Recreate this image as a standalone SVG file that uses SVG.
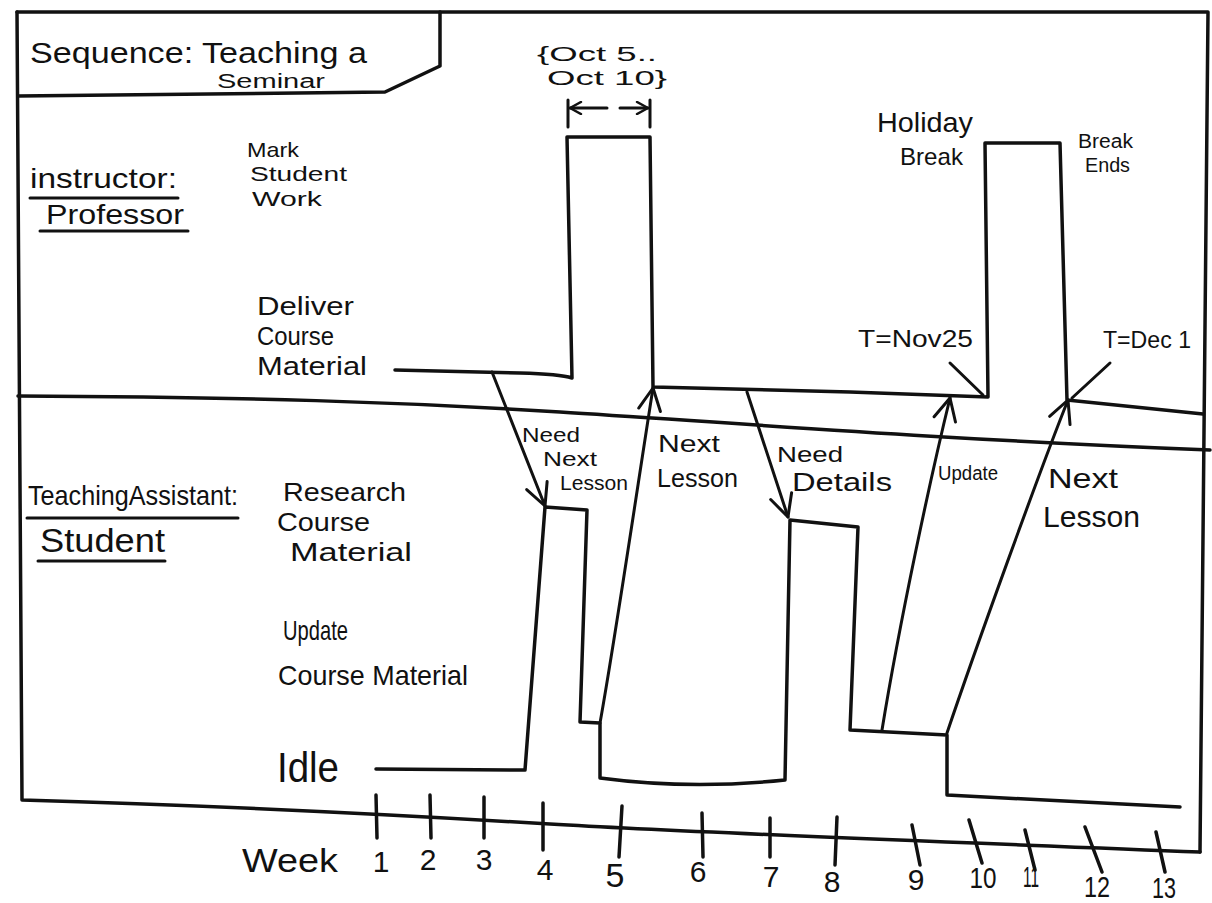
<svg xmlns="http://www.w3.org/2000/svg" width="1212" height="903" viewBox="0 0 1212 903">
  <style>
    .ln { fill: none; stroke: #111; stroke-width: 3.5; stroke-linecap: round; stroke-linejoin: round; }
    .thin { fill: none; stroke: #111; stroke-width: 3; stroke-linecap: round; stroke-linejoin: round; }
    .msg { fill: none; stroke: #111; stroke-width: 3; stroke-linecap: round; stroke-linejoin: round; marker-end: url(#open); }
    text { font-family: "Liberation Sans", Arial, sans-serif; fill: #111; }
  </style>
  <defs>
    <marker id="open" viewBox="0 0 26 26" refX="24" refY="13" markerWidth="26" markerHeight="26" markerUnits="userSpaceOnUse" orient="auto">
      <path d="M2,2 L24,13 L2,24" fill="none" stroke="#111" stroke-width="3" stroke-linecap="round" stroke-linejoin="round"/>
    </marker>
    <marker id="small" viewBox="0 0 14 14" refX="13" refY="7" markerWidth="14" markerHeight="14" markerUnits="userSpaceOnUse" orient="auto">
      <path d="M2,1 L13,7 L2,13" fill="none" stroke="#111" stroke-width="2.5" stroke-linecap="round" stroke-linejoin="round"/>
    </marker>
  </defs>
  <rect width="1212" height="903" fill="#fff"/>

  <!-- outer frame -->
  <g id="frame">
    <path class="ln" d="M17,12 L1208,12 L1200,852"/>
    <path class="ln" d="M17,12 L22,800 C200,805 400,815 550,824 S900,840 1200,852"/>
    <path class="ln" d="M18,396 C250,397 400,402 560,412 S950,440 1210,450"/>
  </g>

  <!-- title box -->
  <g id="title">
    <path class="ln" d="M18,96 L385,92 L440,66 L440,12"/>
    <text x="30" y="63" font-size="30" textLength="337" lengthAdjust="spacingAndGlyphs">Sequence: Teaching a</text>
    <text x="217" y="88" font-size="20" textLength="108" lengthAdjust="spacingAndGlyphs">Seminar</text>
  </g>

  <!-- lifeline: instructor -->
  <g id="lifeline-professor">
    <text x="30" y="188" font-size="28" textLength="147" lengthAdjust="spacingAndGlyphs">instructor:</text>
    <path class="thin" d="M30,198 L178,198"/>
    <text x="46" y="224" font-size="28" textLength="138" lengthAdjust="spacingAndGlyphs">Professor</text>
    <path class="thin" d="M40,231 L188,231"/>
  </g>

  <g id="states-professor">
    <text x="247" y="157" font-size="21" textLength="52" lengthAdjust="spacingAndGlyphs">Mark</text>
    <text x="250" y="181" font-size="21" textLength="97" lengthAdjust="spacingAndGlyphs">Student</text>
    <text x="252" y="206" font-size="21" textLength="70" lengthAdjust="spacingAndGlyphs">Work</text>
    <text x="257" y="315" font-size="26" textLength="97" lengthAdjust="spacingAndGlyphs">Deliver</text>
    <text x="257" y="345" font-size="26" textLength="77" lengthAdjust="spacingAndGlyphs">Course</text>
    <text x="257" y="375" font-size="26" textLength="110" lengthAdjust="spacingAndGlyphs">Material</text>
  </g>

  <!-- lifeline: teaching assistant -->
  <g id="lifeline-student">
    <text x="28" y="505" font-size="28" textLength="210" lengthAdjust="spacingAndGlyphs">TeachingAssistant:</text>
    <path class="thin" d="M27,518 L238,518"/>
    <text x="40" y="552" font-size="34" textLength="125" lengthAdjust="spacingAndGlyphs">Student</text>
    <path class="thin" d="M38,561 L165,561"/>
  </g>

  <g id="states-student">
    <text x="283" y="501" font-size="26" textLength="123" lengthAdjust="spacingAndGlyphs">Research</text>
    <text x="277" y="531" font-size="26" textLength="93" lengthAdjust="spacingAndGlyphs">Course</text>
    <text x="290" y="561" font-size="26" textLength="122" lengthAdjust="spacingAndGlyphs">Material</text>
    <text x="283" y="640" font-size="28" textLength="65" lengthAdjust="spacingAndGlyphs">Update</text>
    <text x="278" y="685" font-size="28" textLength="190" lengthAdjust="spacingAndGlyphs">Course Material</text>
    <text x="277" y="782" font-size="42" textLength="62" lengthAdjust="spacingAndGlyphs">Idle</text>
  </g>

  <!-- state timelines -->
  <g id="timeline-professor">
    <path class="ln" d="M395,370 L520,373 Q560,374 572,378 L567,137 L650,137 L653,387 L850,392 L988,397 L985,143 L1060,143 L1067,400 L1203,414"/>
  </g>
  <g id="timeline-student">
    <path class="ln" d="M376,769 L525,770 L545,507 L587,510 L580,722 L600,723 L600,778 Q690,790 785,780 L790,520 L858,527 L850,730 L947,735 L947,795 L1180,807"/>
  </g>

  <!-- messages -->
  <g id="connectors">
    <path class="msg" d="M492,372 L545,506"/>
    <path class="msg" d="M600,723 C615,640 640,470 653,388"/>
    <path class="msg" d="M747,392 L788,517"/>
    <path class="msg" d="M882,730 C900,620 930,480 950,398"/>
    <path class="msg" d="M947,733 C975,650 1040,470 1068,400"/>
    <path class="thin" d="M950,363 L983,395"/>
    <path class="thin" d="M1110,363 L1072,398"/>
  </g>

  <g id="message-labels">
    <text x="522" y="442" font-size="20" textLength="58" lengthAdjust="spacingAndGlyphs">Need</text>
    <text x="543" y="466" font-size="20" textLength="54" lengthAdjust="spacingAndGlyphs">Next</text>
    <text x="560" y="490" font-size="20" textLength="68" lengthAdjust="spacingAndGlyphs">Lesson</text>
    <text x="658" y="452" font-size="24" textLength="62" lengthAdjust="spacingAndGlyphs">Next</text>
    <text x="657" y="487" font-size="26" textLength="81" lengthAdjust="spacingAndGlyphs">Lesson</text>
    <text x="777" y="462" font-size="22" textLength="66" lengthAdjust="spacingAndGlyphs">Need</text>
    <text x="792" y="491" font-size="26" textLength="100" lengthAdjust="spacingAndGlyphs">Details</text>
    <text x="938" y="480" font-size="20" textLength="60" lengthAdjust="spacingAndGlyphs">Update</text>
    <text x="1048" y="488" font-size="28" textLength="70" lengthAdjust="spacingAndGlyphs">Next</text>
    <text x="1043" y="527" font-size="30" textLength="97" lengthAdjust="spacingAndGlyphs">Lesson</text>
  </g>

  <!-- timing annotations -->
  <g id="duration-constraint">
    <text x="537" y="61" font-size="20" textLength="120" lengthAdjust="spacingAndGlyphs">{Oct 5..</text>
    <text x="547" y="85" font-size="20" textLength="120" lengthAdjust="spacingAndGlyphs">Oct 10}</text>
    <path class="thin" d="M568,100 L568,127 M650,100 L650,127"/>
    <path class="thin" d="M607,108 L570,108" marker-end="url(#small)"/>
    <path class="thin" d="M620,108 L648,108" marker-end="url(#small)"/>
  </g>
  <g id="holiday-annotations">
    <text x="877" y="132" font-size="28" textLength="96" lengthAdjust="spacingAndGlyphs">Holiday</text>
    <text x="900" y="165" font-size="24" textLength="63" lengthAdjust="spacingAndGlyphs">Break</text>
    <text x="1078" y="148" font-size="20" textLength="55" lengthAdjust="spacingAndGlyphs">Break</text>
    <text x="1085" y="172" font-size="20" textLength="45" lengthAdjust="spacingAndGlyphs">Ends</text>
    <text x="858" y="347" font-size="24" textLength="115" lengthAdjust="spacingAndGlyphs">T=Nov25</text>
    <text x="1103" y="348" font-size="24" textLength="88" lengthAdjust="spacingAndGlyphs">T=Dec 1</text>
  </g>

  <!-- time axis -->
  <g id="time-axis">
    <text x="242" y="872" font-size="34" textLength="96" lengthAdjust="spacingAndGlyphs">Week</text>
    <path class="ln" d="M376,795 L377,838 M430,795 L431,838 M484,797 L484,838 M543,803 L543,850 M622,806 L619,857 M702,813 L703,857 M770,818 L770,857 M837,817 L835,865 M912,825 L920,865 M969,820 L982,863 M1025,830 L1035,870 M1085,827 L1102,872 M1156,832 L1165,872"/>
    <g font-size="30" text-anchor="middle">
      <text x="381" y="872">1</text>
      <text x="428" y="870">2</text>
      <text x="484" y="870">3</text>
      <text x="545" y="880">4</text>
      <text x="615" y="887" font-size="34">5</text>
      <text x="698" y="882">6</text>
      <text x="771" y="887">7</text>
      <text x="832" y="892">8</text>
      <text x="916" y="890">9</text>
      <text x="983" y="888" textLength="27" lengthAdjust="spacingAndGlyphs">10</text>
      <text x="1031" y="887" textLength="16" lengthAdjust="spacingAndGlyphs">11</text>
      <text x="1097" y="897" textLength="26" lengthAdjust="spacingAndGlyphs">12</text>
      <text x="1164" y="898" textLength="24" lengthAdjust="spacingAndGlyphs">13</text>
    </g>
  </g>
</svg>
